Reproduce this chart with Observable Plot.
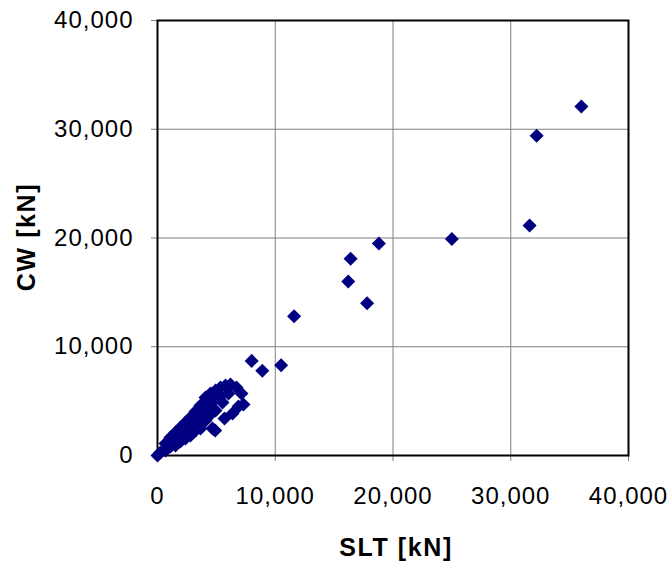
<!DOCTYPE html>
<html>
<head>
<meta charset="utf-8">
<script src="https://cdn.jsdelivr.net/npm/d3@7"></script>
<script src="https://cdn.jsdelivr.net/npm/@observablehq/plot@0.6"></script>
<style>
  html, body { margin: 0; padding: 0; background: #fff; }
  #chart svg { display: block; }
</style>
</head>
<body>
<div id="chart"></div>
<script>
// SLT [kN] (x) and CW [kN] (y)
const slt = [
  0, 250, 680, 680, 1100, 1100, 1530, 1530, 1530, 1950,
  1950, 1950, 2380, 2380, 2380, 2800, 2800, 2800, 3230, 3230,
  3230, 3650, 3650, 3650, 4080, 4080, 4080, 4500, 4500, 4500,
  4670, 4930, 4930, 4930, 5350, 5350, 5780, 5690, 6200, 6370,
  6710, 6880, 7130, 7300, 4900, 6030, 5520,
  8000, 8900, 10500, 11600, 16200, 16400, 17800, 18800, 25000, 31600, 32200, 36000
];
const cw = [
  0, 280, 1100, 460, 1650, 830, 2120, 1560, 920, 2580,
  1930, 1290, 3030, 2300, 1560, 3490, 2670, 1840, 4050, 3220,
  2300, 4600, 3680, 2480, 5330, 4320, 3220, 5700, 4780, 3770,
  2480, 5980, 5240, 4140, 6250, 5430, 6440, 3400, 6530, 3860,
  6250, 4510, 5700, 4690, 2300, 5700, 4870,
  8700, 7800, 8300, 12800, 16000, 18100, 14000, 19500, 19900, 21150, 29400, 32100
];
const xTicks = [0, 10000, 20000, 30000, 40000];
const yTicks = [0, 10000, 20000, 30000, 40000];
const gridValues = [10000, 20000, 30000];

const data = slt.map((x, i) => ({x, y: cw[i]}));

const chart = Plot.plot({
  width: 670,
  height: 562,
  marginLeft: 157,
  marginRight: 42,
  marginTop: 20,
  marginBottom: 107,
  style: {fontFamily: "'Liberation Sans', Arial, sans-serif", fontSize: "24px", color: "black", background: "white"},
  x: {domain: [0, 40000]},
  y: {domain: [0, 40000]},
  marks: [
    Plot.gridX(gridValues, {stroke: "#7f7f7f", strokeOpacity: 1, strokeWidth: 1}),
    Plot.gridY(gridValues, {stroke: "#7f7f7f", strokeOpacity: 1, strokeWidth: 1}),
    Plot.axisX(xTicks, {tickFormat: d3.format(","), tickSize: 6, tickPadding: 25, stroke: "#7f7f7f", fill: "black", label: null}),
    Plot.axisY(yTicks, {tickFormat: d3.format(","), tickSize: 6, tickPadding: 18, stroke: "#7f7f7f", fill: "black", label: null}),
    Plot.frame({stroke: "black", strokeWidth: 2}),
    Plot.dot(data, {x: "x", y: "y", symbol: "square", rotate: 45, r: 5.6, fill: "#000080", stroke: "none"})
  ]
});

const svg = d3.select(chart);
svg.selectAll("g[aria-label='x-axis tick label'] text, g[aria-label='y-axis tick label'] text")
  .style("letter-spacing", "1px");

svg.append("text")
  .attr("x", 396).attr("y", 556)
  .attr("text-anchor", "middle")
  .attr("font-weight", "bold")
  .attr("font-size", 25)
  .style("letter-spacing", "1.6px")
  .attr("fill", "black")
  .text("SLT [kN]");

svg.append("text")
  .attr("transform", "translate(35,237) rotate(-90)")
  .attr("text-anchor", "middle")
  .attr("font-weight", "bold")
  .attr("font-size", 25)
  .style("letter-spacing", "1.6px")
  .attr("fill", "black")
  .text("CW [kN]");

document.getElementById("chart").appendChild(chart);
</script>
</body>
</html>
